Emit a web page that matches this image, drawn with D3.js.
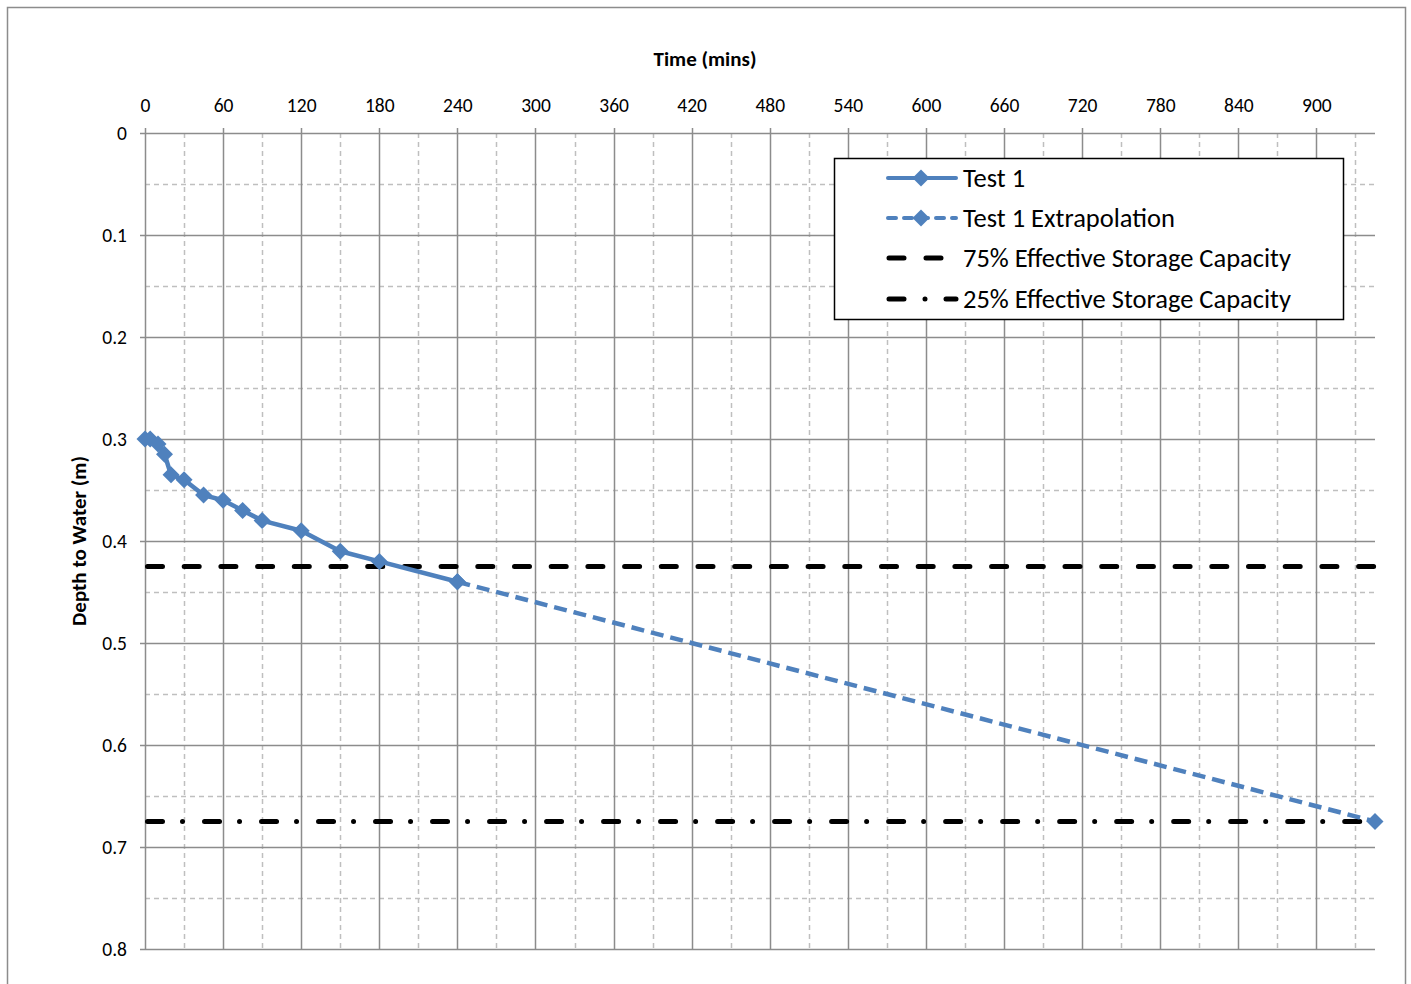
<!DOCTYPE html>
<html>
<head>
<meta charset="utf-8">
<script src="https://cdn.jsdelivr.net/npm/d3@7"></script>
<style>
  html, body { margin: 0; padding: 0; background: #fff; }
  svg { display: block; }
  text { font-family: Carlito, Lato, "Open Sans", sans-serif; fill: #000; }
</style>
</head>
<body>
<svg id="chart" width="1411" height="984"></svg>
<script>
// ---- data ----
const test1Time  = [0, 4, 10, 15, 20, 30, 45, 60, 75, 90, 120, 150, 180, 240];
const test1Depth = [0.30, 0.30, 0.305, 0.315, 0.335, 0.34, 0.355, 0.36, 0.37, 0.38, 0.39, 0.41, 0.42, 0.44];
const extrapTime  = [240, 945];
const extrapDepth = [0.44, 0.675];
const capacity75 = 0.425;
const capacity25 = 0.675;
const xTickValues = [0, 60, 120, 180, 240, 300, 360, 420, 480, 540, 600, 660, 720, 780, 840, 900];
const xMinorValues = [30, 90, 150, 210, 270, 330, 390, 450, 510, 570, 630, 690, 750, 810, 870, 930];
const yTickValues = [0, 0.1, 0.2, 0.3, 0.4, 0.5, 0.6, 0.7, 0.8];
const yMinorValues = [0.05, 0.15, 0.25, 0.35, 0.45, 0.55, 0.65, 0.75];
const legendLabels = ["Test 1", "Test 1 Extrapolation", "75% Effective Storage Capacity", "25% Effective Storage Capacity"];
const xTitle = "Time (mins)";
const yTitle = "Depth to Water (m)";

// ---- layout ----
const svg = d3.select("#chart");
const pLeft = 145, pRight = 1375, pTop = 133, pBottom = 949;
const x = d3.scaleLinear().domain([0, 945]).range([pLeft, pRight]);
const y = d3.scaleLinear().domain([0, 0.8]).range([pTop, pBottom]);
const blue = "#4f81bd";
const gridMajor = "#8c8c8c";
const gridMinor = "#bfbfbf";

// outer border
svg.append("rect").attr("x", 7.5).attr("y", 7.5).attr("width", 1398).attr("height", 990)
  .attr("fill", "none").attr("stroke", "#8c8c8c").attr("stroke-width", 1.5);

// minor grid
const g = svg.append("g");
g.selectAll(".vminor").data(xMinorValues).join("line")
  .attr("x1", d => Math.round(x(d)) + 0.5).attr("x2", d => Math.round(x(d)) + 0.5)
  .attr("y1", pTop).attr("y2", pBottom)
  .attr("stroke", gridMinor).attr("stroke-width", 1.5).attr("stroke-dasharray", "5,4");
g.selectAll(".hminor").data(yMinorValues).join("line")
  .attr("y1", d => Math.round(y(d)) + 0.5).attr("y2", d => Math.round(y(d)) + 0.5)
  .attr("x1", pLeft).attr("x2", pRight)
  .attr("stroke", gridMinor).attr("stroke-width", 1.5).attr("stroke-dasharray", "5,4");

// major grid
g.selectAll(".vmajor").data(xTickValues).join("line")
  .attr("x1", d => Math.round(x(d)) + 0.5).attr("x2", d => Math.round(x(d)) + 0.5)
  .attr("y1", pTop - 5).attr("y2", pBottom)
  .attr("stroke", gridMajor).attr("stroke-width", 1.5);
g.selectAll(".hmajor").data(yTickValues).join("line")
  .attr("y1", d => Math.round(y(d)) + 0.5).attr("y2", d => Math.round(y(d)) + 0.5)
  .attr("x1", pLeft - 5).attr("x2", pRight)
  .attr("stroke", gridMajor).attr("stroke-width", 1.5);

// axes (labels via d3 axis)
const xAxis = svg.append("g").attr("transform", `translate(0,${pTop - 6})`)
  .call(d3.axisTop(x).tickValues(xTickValues).tickSize(0).tickPadding(15).tickFormat(d3.format("d")));
const yAxis = svg.append("g").attr("transform", `translate(${pLeft - 6},0)`)
  .call(d3.axisLeft(y).tickValues(yTickValues).tickSize(0).tickPadding(12).tickFormat(d => d === 0 ? "0" : d3.format(".1f")(d)));
[xAxis, yAxis].forEach(a => {
  a.select(".domain").remove();
  a.selectAll("text").style("font-size", "19.5px").style("font-family", "Carlito, Lato, 'Open Sans', sans-serif").attr("fill", "#000");
});
xAxis.selectAll("text").attr("dy", "0");
yAxis.selectAll("text").attr("dy", "0.35em");

// titles
svg.append("text").attr("x", 705).attr("y", 66).attr("text-anchor", "middle")
  .style("font-size", "21px").style("font-weight", "bold").text(xTitle);
svg.append("text").attr("transform", `translate(86,${541}) rotate(-90)`).attr("text-anchor", "middle")
  .style("font-size", "21px").style("font-weight", "bold").text(yTitle);

// capacity lines
svg.append("line").attr("x1", x(0) + 2.5).attr("x2", pRight).attr("y1", y(capacity75)).attr("y2", y(capacity75))
  .attr("stroke", "#000").attr("stroke-width", 5).attr("stroke-linecap", "round").attr("stroke-dasharray", "15,21.7");
svg.append("line").attr("x1", x(0) + 2.5).attr("x2", pRight).attr("y1", y(capacity25)).attr("y2", y(capacity25))
  .attr("stroke", "#000").attr("stroke-width", 5).attr("stroke-linecap", "round").attr("stroke-dasharray", "15,20,0.01,22");

// series
const line = d3.line().x(d => x(d[0])).y(d => y(d[1]));
const test1 = test1Time.map((t, i) => [t, test1Depth[i]]);
const extrap = extrapTime.map((t, i) => [t, extrapDepth[i]]);

svg.append("path").datum(extrap).attr("d", line).attr("fill", "none")
  .attr("stroke", blue).attr("stroke-width", 4.5).attr("stroke-dasharray", "13,7");
svg.append("path").datum(test1).attr("d", line).attr("fill", "none")
  .attr("stroke", blue).attr("stroke-width", 4.5).attr("stroke-linejoin", "round");

const diamond = "M0,-8.5L8.5,0L0,8.5L-8.5,0Z";
svg.selectAll(".m1").data(test1).join("path").attr("d", diamond)
  .attr("transform", d => `translate(${x(d[0])},${y(d[1])})`).attr("fill", blue);
svg.selectAll(".m2").data(extrap).join("path").attr("d", diamond)
  .attr("transform", d => `translate(${x(d[0])},${y(d[1])})`).attr("fill", blue);

// legend
const lg = svg.append("g");
lg.append("rect").attr("x", 834.5).attr("y", 158.5).attr("width", 509).attr("height", 161)
  .attr("fill", "#fff").attr("stroke", "#000").attr("stroke-width", 1.5);
const rowsY = [178, 218, 258, 299];
const lx1 = 888, lx2 = 956, lxm = 921;
lg.append("line").attr("x1", lx1).attr("x2", lx2).attr("y1", rowsY[0]).attr("y2", rowsY[0])
  .attr("stroke", blue).attr("stroke-width", 4).attr("stroke-linecap", "round");
lg.append("path").attr("d", diamond).attr("transform", `translate(${lxm},${rowsY[0]})`).attr("fill", blue);
lg.append("line").attr("x1", lx1).attr("x2", lx2).attr("y1", rowsY[1]).attr("y2", rowsY[1])
  .attr("stroke", blue).attr("stroke-width", 4).attr("stroke-linecap", "round").attr("stroke-dasharray", "8,8");
lg.append("path").attr("d", diamond).attr("transform", `translate(${lxm},${rowsY[1]})`).attr("fill", blue);
lg.append("line").attr("x1", 889).attr("x2", 956).attr("y1", rowsY[2]).attr("y2", rowsY[2])
  .attr("stroke", "#000").attr("stroke-width", 5).attr("stroke-linecap", "round").attr("stroke-dasharray", "15,22");
lg.append("line").attr("x1", 889).attr("x2", 956).attr("y1", rowsY[3]).attr("y2", rowsY[3])
  .attr("stroke", "#000").attr("stroke-width", 5).attr("stroke-linecap", "round").attr("stroke-dasharray", "15,21,0.01,21");
lg.selectAll(".lt").data(legendLabels).join("text")
  .attr("x", 963).attr("y", (d, i) => rowsY[i]).attr("dy", "0.35em")
  .style("font-size", "26.5px").text(d => d);
</script>
</body>
</html>
